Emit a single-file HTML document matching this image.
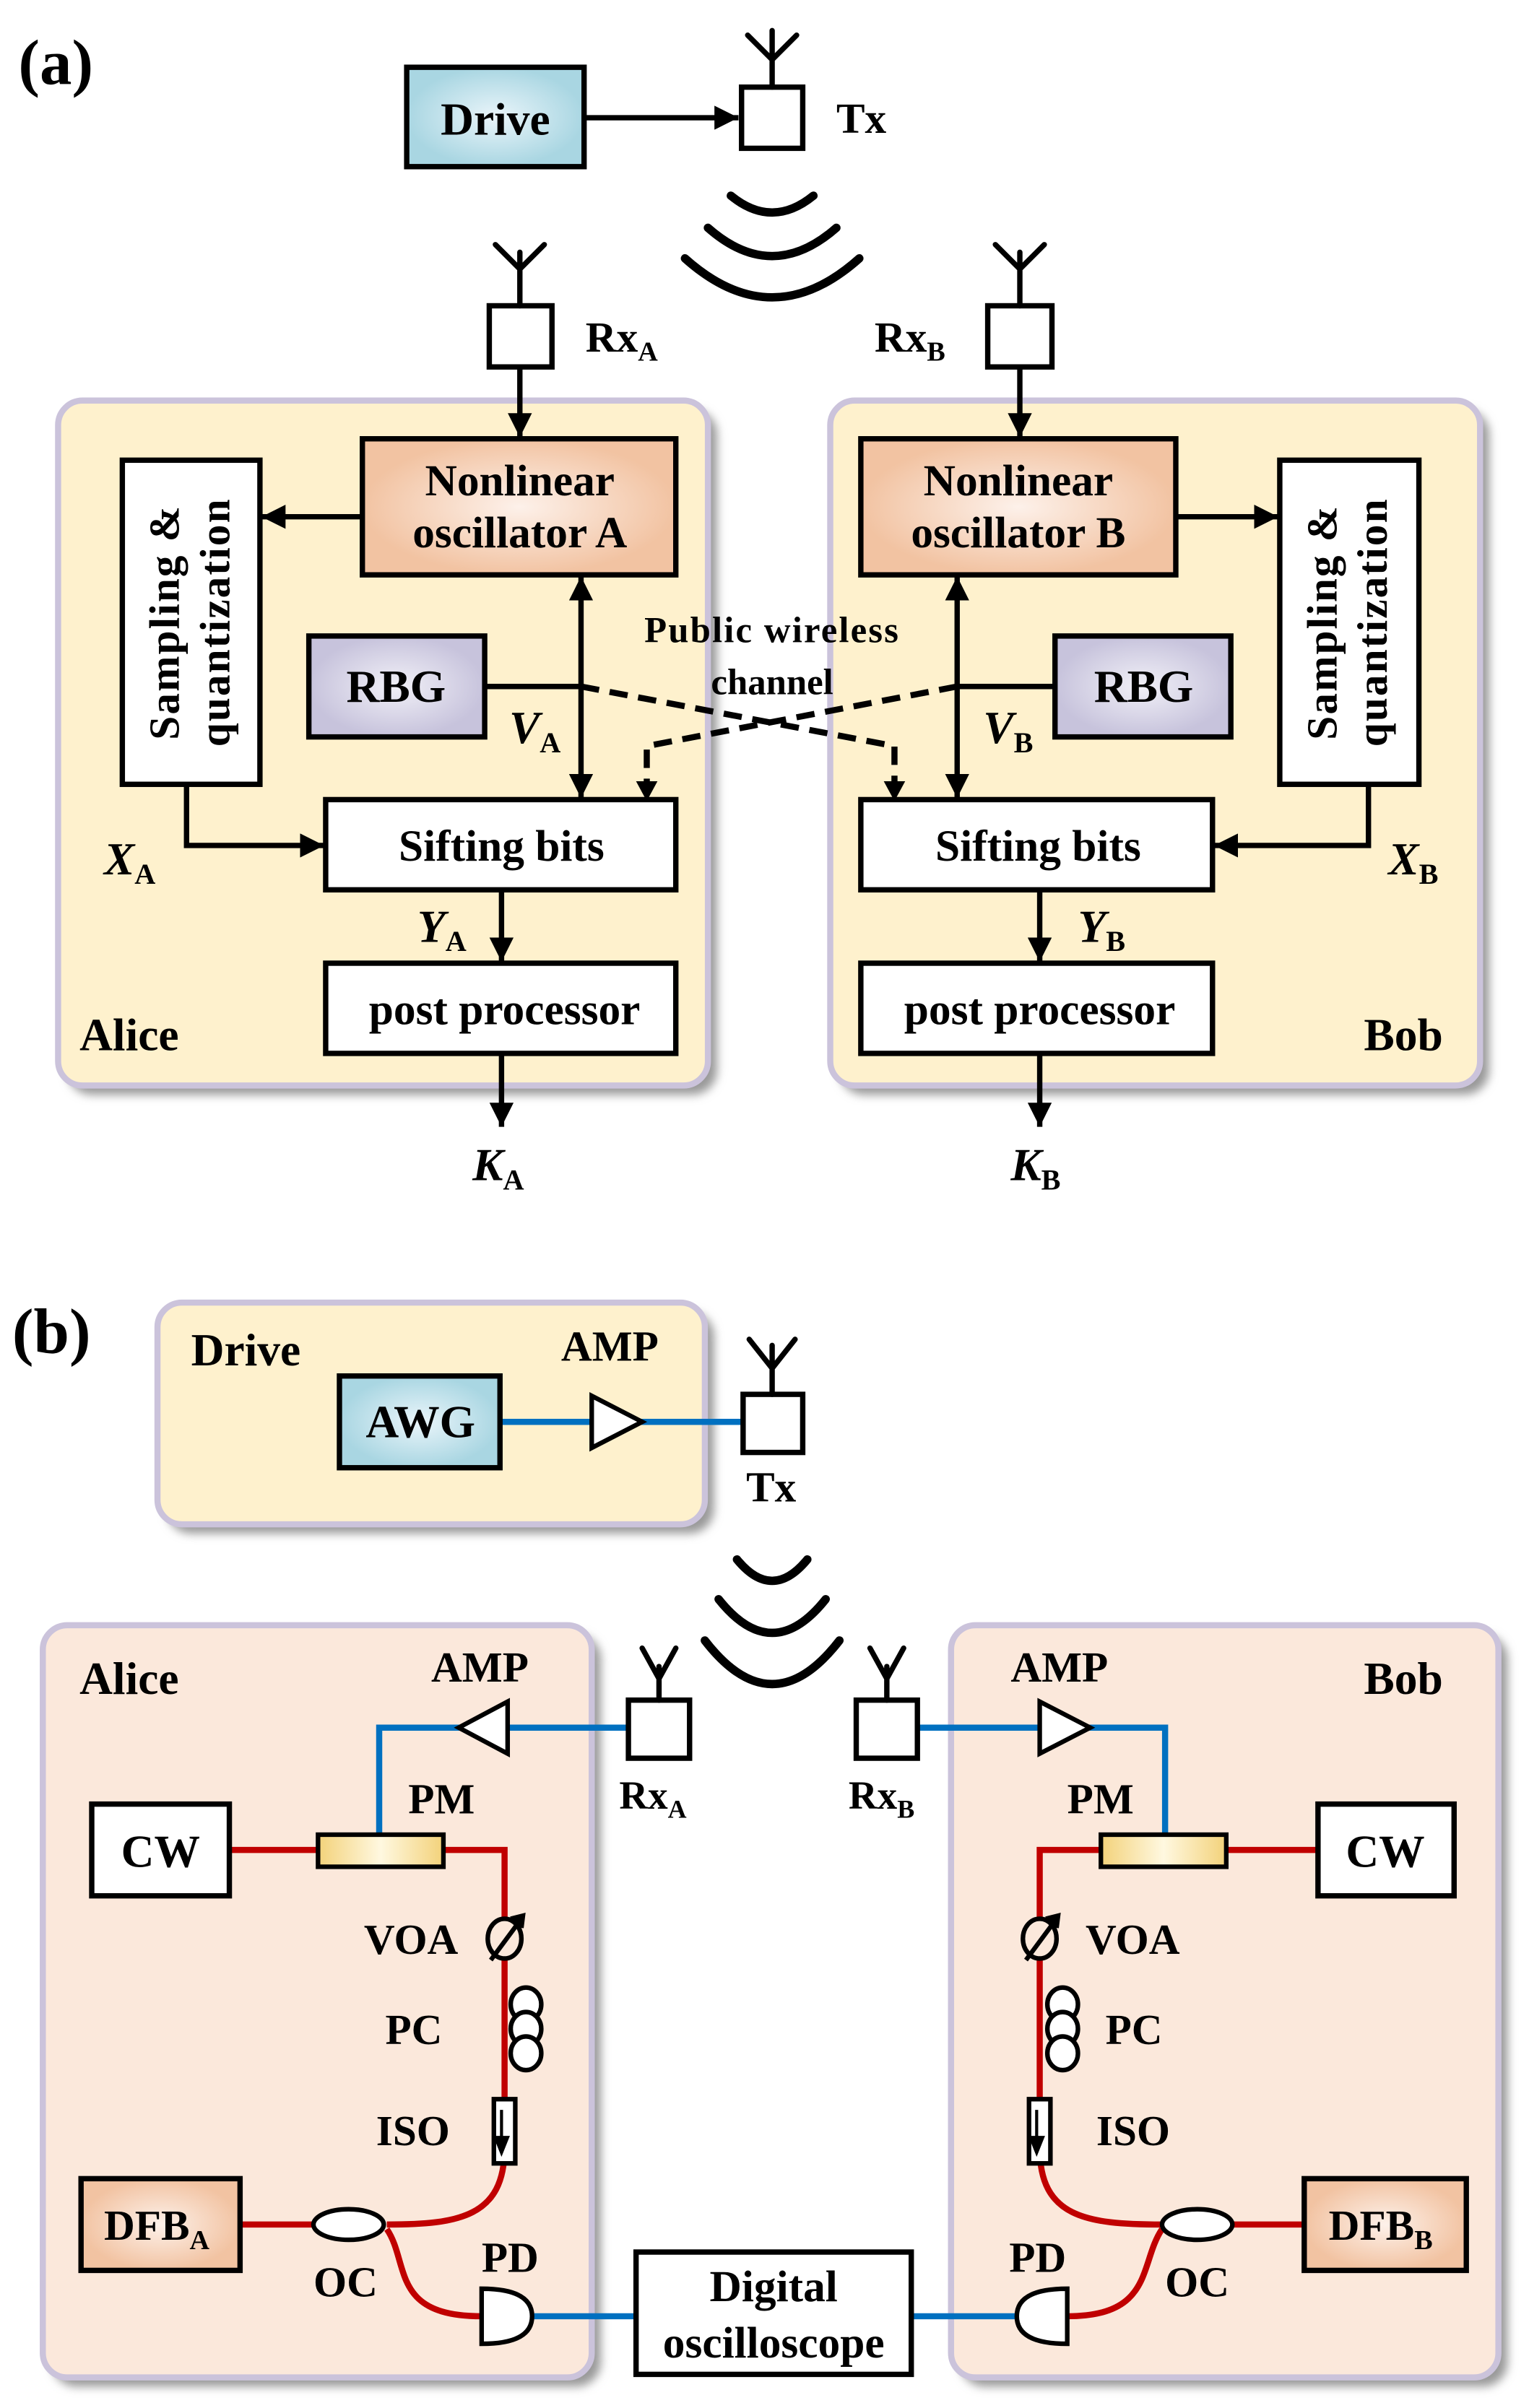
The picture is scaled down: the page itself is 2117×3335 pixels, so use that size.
<!DOCTYPE html>
<html><head><meta charset="utf-8"><style>
html,body{margin:0;padding:0;background:#fff;}
svg{display:block;}
text{font-family:"Liberation Serif",serif;font-weight:bold;fill:#000;}
</style></head><body>
<svg width="2117" height="3335" viewBox="0 0 1000 1575" preserveAspectRatio="none" xmlns="http://www.w3.org/2000/svg">
<defs>
<radialGradient id="gBlue"><stop offset="0" stop-color="#eaf5fa"/><stop offset="1" stop-color="#a9d6e2"/></radialGradient>
<radialGradient id="gPeach"><stop offset="0" stop-color="#fdf1ea"/><stop offset="1" stop-color="#f2c3a2"/></radialGradient>
<radialGradient id="gLav"><stop offset="0" stop-color="#f1f0f7"/><stop offset="1" stop-color="#c7c3dc"/></radialGradient>
<linearGradient id="gGold" x1="0" x2="1"><stop offset="0" stop-color="#f3d27a"/><stop offset="0.5" stop-color="#fff8e0"/><stop offset="1" stop-color="#f3d27a"/></linearGradient>
<marker id="ah" viewBox="0 0 10 10" refX="10" refY="5" markerWidth="4.5" markerHeight="4.5" orient="auto-start-reverse" markerUnits="strokeWidth"><path d="M0,0 L10,5 L0,10z" fill="#000"/></marker>
<filter id="sh" x="-5%" y="-5%" width="115%" height="115%"><feGaussianBlur stdDeviation="3"/></filter>
</defs>

<!-- (a) -->
<text x="12" y="55" font-size="42">(a)</text>
<rect x="266" y="44" width="116" height="65" fill="url(#gBlue)" stroke="#000" stroke-width="3.5"/>
<text x="324" y="88" font-size="30" text-anchor="middle">Drive</text>
<line x1="382" y1="77" x2="483" y2="77" stroke="#000" stroke-width="3.5" marker-end="url(#ah)"/>
<g stroke="#000" stroke-width="3.5" fill="none" stroke-linecap="round">
<rect x="485" y="57" width="40" height="40" fill="#fff"/>
<path d="M505,57 V20 M489,23 L505,39 L521,23"/>
<path d="M478,128 Q505,150 532,128" stroke-width="5.5"/>
<path d="M463,149 Q505,186 547,149" stroke-width="5.5"/>
<path d="M448,169 Q505,220 562,169" stroke-width="5.5"/>
</g>
<text x="547" y="87" font-size="28">Tx</text>

<g stroke="#000" stroke-width="3.5" fill="none" stroke-linecap="round">
<rect x="320" y="200" width="41" height="40" fill="#fff"/>
<path d="M340,200 V165 M324,160 L340,176 L356,160"/>
<rect x="646" y="200" width="42" height="40" fill="#fff"/>
<path d="M667,200 V165 M651,160 L667,176 L683,160"/>
</g>
<text x="383" y="230" font-size="28">Rx<tspan font-size="18" dy="6">A</tspan></text>
<text x="572" y="230" font-size="28">Rx<tspan font-size="18" dy="6">B</tspan></text>

<rect x="44" y="268" width="425" height="448" rx="16" fill="#999" filter="url(#sh)"/>
<rect x="549" y="268" width="425" height="448" rx="16" fill="#999" filter="url(#sh)"/>
<rect x="38" y="262" width="425" height="448" rx="16" fill="#fef1cd" stroke="#cbc3db" stroke-width="4"/>
<rect x="543" y="262" width="425" height="448" rx="16" fill="#fef1cd" stroke="#cbc3db" stroke-width="4"/>

<g stroke="#000" stroke-width="3.5" fill="none">
<line x1="340" y1="240" x2="340" y2="286" marker-end="url(#ah)"/>
<line x1="667" y1="240" x2="667" y2="286" marker-end="url(#ah)"/>
<line x1="237" y1="338" x2="171" y2="338" marker-end="url(#ah)"/>
<line x1="769" y1="338" x2="836" y2="338" marker-end="url(#ah)"/>
<line x1="380" y1="377" x2="380" y2="522" marker-start="url(#ah)" marker-end="url(#ah)"/>
<line x1="626" y1="377" x2="626" y2="522" marker-start="url(#ah)" marker-end="url(#ah)"/>
<polyline points="122,513 122,553 212,553" marker-end="url(#ah)"/>
<polyline points="895,513 895,553 794,553" marker-end="url(#ah)"/>
<line x1="328" y1="582" x2="328" y2="629" marker-end="url(#ah)"/>
<line x1="680" y1="582" x2="680" y2="629" marker-end="url(#ah)"/>
<line x1="328" y1="689" x2="328" y2="737" marker-end="url(#ah)"/>
<line x1="680" y1="689" x2="680" y2="737" marker-end="url(#ah)"/>
<line x1="317" y1="449" x2="380" y2="449"/>
<line x1="690" y1="449" x2="626" y2="449"/>
</g>
<g stroke="#000" stroke-width="4" fill="none" stroke-dasharray="12,7">
<polyline points="380,449 585,488 585,516"/>
<polyline points="626,449 423,488 423,516"/>
</g>
<path d="M416,511 L430,511 L423,524z M578,511 L592,511 L585,524z" fill="#000"/>

<rect x="237" y="287" width="205" height="89" fill="url(#gPeach)" stroke="#000" stroke-width="3.5"/>
<text x="340" y="324" font-size="29" text-anchor="middle">Nonlinear</text>
<text x="340" y="358" font-size="29" text-anchor="middle">oscillator A</text>
<rect x="563" y="287" width="206" height="89" fill="url(#gPeach)" stroke="#000" stroke-width="3.5"/>
<text x="666" y="324" font-size="29" text-anchor="middle">Nonlinear</text>
<text x="666" y="358" font-size="29" text-anchor="middle">oscillator B</text>

<rect x="80" y="301" width="90" height="212" fill="#fff" stroke="#000" stroke-width="3.5"/>
<text transform="translate(117,407) rotate(-90)" font-size="28" text-anchor="middle" letter-spacing="1">Sampling &amp;</text>
<text transform="translate(150,407) rotate(-90)" font-size="28" text-anchor="middle" letter-spacing="1">quantization</text>
<rect x="837" y="301" width="91" height="212" fill="#fff" stroke="#000" stroke-width="3.5"/>
<text transform="translate(874,407) rotate(-90)" font-size="28" text-anchor="middle" letter-spacing="1">Sampling &amp;</text>
<text transform="translate(907,407) rotate(-90)" font-size="28" text-anchor="middle" letter-spacing="1">quantization</text>

<rect x="202" y="416" width="115" height="66" fill="url(#gLav)" stroke="#000" stroke-width="3.5"/>
<text x="259" y="459" font-size="30" text-anchor="middle">RBG</text>
<rect x="690" y="416" width="115" height="66" fill="url(#gLav)" stroke="#000" stroke-width="3.5"/>
<text x="748" y="459" font-size="30" text-anchor="middle">RBG</text>

<text x="505" y="420" font-size="24" text-anchor="middle" letter-spacing="1">Public wireless</text>
<text x="505" y="454" font-size="24" text-anchor="middle">channel</text>

<text x="333" y="486" font-size="30" font-style="italic">V<tspan font-size="19" font-style="normal" dy="6">A</tspan></text>
<text x="643" y="486" font-size="30" font-style="italic">V<tspan font-size="19" font-style="normal" dy="6">B</tspan></text>

<rect x="213" y="523" width="229" height="59" fill="#fff" stroke="#000" stroke-width="3.5"/>
<text x="328" y="563" font-size="29" text-anchor="middle">Sifting bits</text>
<rect x="563" y="523" width="230" height="59" fill="#fff" stroke="#000" stroke-width="3.5"/>
<text x="679" y="563" font-size="29" text-anchor="middle">Sifting bits</text>

<text x="68" y="572" font-size="30" font-style="italic">X<tspan font-size="19" font-style="normal" dy="6">A</tspan></text>
<text x="908" y="572" font-size="30" font-style="italic">X<tspan font-size="19" font-style="normal" dy="6">B</tspan></text>
<text x="273" y="616" font-size="30" font-style="italic">Y<tspan font-size="19" font-style="normal" dy="6">A</tspan></text>
<text x="705" y="616" font-size="30" font-style="italic">Y<tspan font-size="19" font-style="normal" dy="6">B</tspan></text>

<rect x="213" y="630" width="229" height="59" fill="#fff" stroke="#000" stroke-width="3.5"/>
<text x="330" y="670" font-size="29" text-anchor="middle">post processor</text>
<rect x="563" y="630" width="230" height="59" fill="#fff" stroke="#000" stroke-width="3.5"/>
<text x="680" y="670" font-size="29" text-anchor="middle">post processor</text>

<text x="52" y="687" font-size="30">Alice</text>
<text x="892" y="687" font-size="30">Bob</text>
<text x="309" y="772" font-size="30" font-style="italic">K<tspan font-size="19" font-style="normal" dy="6">A</tspan></text>
<text x="661" y="772" font-size="30" font-style="italic">K<tspan font-size="19" font-style="normal" dy="6">B</tspan></text>

<!-- (b) -->
<text x="8" y="885" font-size="42">(b)</text>
<rect x="109" y="858" width="358" height="145" rx="16" fill="#999" filter="url(#sh)"/>
<rect x="103" y="852" width="358" height="145" rx="16" fill="#fef1cd" stroke="#cbc3db" stroke-width="4"/>
<text x="125" y="893" font-size="30">Drive</text>
<text x="367" y="890" font-size="28">AMP</text>
<line x1="327" y1="930" x2="486" y2="930" stroke="#0070c0" stroke-width="4"/>
<rect x="222" y="900" width="105" height="60" fill="url(#gBlue)" stroke="#000" stroke-width="3.5"/>
<text x="275" y="940" font-size="30" text-anchor="middle">AWG</text>
<path d="M387,913 L420,930 L387,947z" fill="#fff" stroke="#000" stroke-width="3"/>
<g stroke="#000" stroke-width="3.5" fill="none" stroke-linecap="round">
<rect x="486" y="912" width="39" height="38" fill="#fff"/>
<path d="M505,912 V880 M490,876 L505,895 L520,876"/>
<path d="M482,1020 Q505,1048 528,1020" stroke-width="5.5"/>
<path d="M470,1046 Q505,1090 540,1046" stroke-width="5.5"/>
<path d="M461,1073 Q505,1130 549,1073" stroke-width="5.5"/>
</g>
<text x="488" y="982" font-size="28">Tx</text>

<rect x="34" y="1069" width="359" height="492" rx="16" fill="#999" filter="url(#sh)"/>
<rect x="628" y="1069" width="358" height="492" rx="16" fill="#999" filter="url(#sh)"/>
<rect x="28" y="1063" width="359" height="492" rx="16" fill="#fbe8db" stroke="#cbc3db" stroke-width="4"/>
<rect x="622" y="1063" width="358" height="492" rx="16" fill="#fbe8db" stroke="#cbc3db" stroke-width="4"/>
<text x="52" y="1108" font-size="30">Alice</text>
<text x="892" y="1108" font-size="30">Bob</text>
<text x="282" y="1100" font-size="28">AMP</text>
<text x="661" y="1100" font-size="28">AMP</text>

<g stroke="#0070c0" stroke-width="4" fill="none">
<polyline points="411,1130 248,1130 248,1202"/>
<polyline points="600,1130 762,1130 762,1202"/>
<line x1="348" y1="1515" x2="416" y2="1515"/>
<line x1="596" y1="1515" x2="665" y2="1515"/>
</g>
<path d="M332,1113 L300,1130 L332,1147z" fill="#fff" stroke="#000" stroke-width="3"/>
<path d="M680,1113 L713,1130 L680,1147z" fill="#fff" stroke="#000" stroke-width="3"/>
<g stroke="#000" stroke-width="3.5" fill="none" stroke-linecap="round">
<rect x="411" y="1112" width="40" height="38" fill="#fff"/>
<path d="M431,1112 V1090 M420,1078 L431,1098 L442,1078"/>
<rect x="560" y="1112" width="40" height="38" fill="#fff"/>
<path d="M580,1112 V1090 M569,1078 L580,1098 L591,1078"/>
</g>
<text x="405" y="1183" font-size="26">Rx<tspan font-size="17" dy="6">A</tspan></text>
<text x="555" y="1183" font-size="26">Rx<tspan font-size="17" dy="6">B</tspan></text>

<g stroke="#c00000" stroke-width="4" fill="none">
<line x1="150" y1="1210" x2="208" y2="1210"/>
<polyline points="290,1210 330,1210 330,1405"/>
<path d="M330,1405 C330,1450 300,1455 253,1455"/>
<line x1="157" y1="1455" x2="205" y2="1455"/>
<path d="M253,1458 C268,1480 255,1515 315,1515"/>
<line x1="802" y1="1210" x2="862" y2="1210"/>
<polyline points="720,1210 680,1210 680,1405"/>
<path d="M680,1405 C680,1450 710,1455 760,1455"/>
<line x1="806" y1="1455" x2="853" y2="1455"/>
<path d="M760,1458 C745,1480 755,1515 698,1515"/>
</g>

<rect x="60" y="1180" width="90" height="60" fill="#fff" stroke="#000" stroke-width="3.5"/>
<text x="105" y="1221" font-size="30" text-anchor="middle">CW</text>
<rect x="862" y="1180" width="89" height="60" fill="#fff" stroke="#000" stroke-width="3.5"/>
<text x="906" y="1221" font-size="30" text-anchor="middle">CW</text>
<rect x="208" y="1200" width="82" height="21" fill="url(#gGold)" stroke="#000" stroke-width="3"/>
<rect x="720" y="1200" width="82" height="21" fill="url(#gGold)" stroke="#000" stroke-width="3"/>
<text x="267" y="1186" font-size="28">PM</text>
<text x="698" y="1186" font-size="28">PM</text>

<g stroke="#000" stroke-width="3" fill="none">
<ellipse cx="330" cy="1268" rx="11" ry="13" fill="#fbe8db"/>
<line x1="321" y1="1282" x2="341" y2="1255"/>
<path d="M334,1255 L342,1253 L341,1261" fill="#000"/>
<ellipse cx="680" cy="1268" rx="11" ry="13" fill="#fbe8db"/>
<line x1="671" y1="1282" x2="691" y2="1255"/>
<path d="M684,1255 L692,1253 L691,1261" fill="#000"/>
<ellipse cx="344" cy="1311" rx="10" ry="11" fill="#fff"/>
<ellipse cx="344" cy="1327" rx="10" ry="11" fill="#fff"/>
<ellipse cx="344" cy="1343" rx="10" ry="11" fill="#fff"/>
<ellipse cx="695" cy="1311" rx="10" ry="11" fill="#fff"/>
<ellipse cx="695" cy="1327" rx="10" ry="11" fill="#fff"/>
<ellipse cx="695" cy="1343" rx="10" ry="11" fill="#fff"/>
<rect x="323" y="1373" width="14" height="42" fill="#fff"/>
<rect x="673" y="1373" width="14" height="42" fill="#fff"/>
<ellipse cx="228" cy="1455" rx="23" ry="10" fill="#fff"/>
<ellipse cx="783" cy="1455" rx="23" ry="10" fill="#fff"/>
<path d="M315,1497 L315,1533 Q348,1533 348,1515 Q348,1497 315,1497z" fill="#fff"/>
<path d="M698,1497 L698,1533 Q665,1533 665,1515 Q665,1497 698,1497z" fill="#fff"/>
</g>
<path d="M328,1380 V1403 M324,1398 L328,1408 L332,1398z" stroke="#000" stroke-width="2" fill="#000"/>
<path d="M678,1380 V1403 M674,1398 L678,1408 L682,1398z" stroke="#000" stroke-width="2" fill="#000"/>
<text x="238" y="1278" font-size="28">VOA</text>
<text x="710" y="1278" font-size="28">VOA</text>
<text x="252" y="1337" font-size="28">PC</text>
<text x="723" y="1337" font-size="28">PC</text>
<text x="246" y="1403" font-size="28">ISO</text>
<text x="717" y="1403" font-size="28">ISO</text>

<rect x="53" y="1425" width="104" height="60" fill="url(#gPeach)" stroke="#000" stroke-width="3.5"/>
<text x="68" y="1465" font-size="28">DFB<tspan font-size="18" dy="6">A</tspan></text>
<rect x="853" y="1425" width="106" height="60" fill="url(#gPeach)" stroke="#000" stroke-width="3.5"/>
<text x="869" y="1465" font-size="28">DFB<tspan font-size="18" dy="6">B</tspan></text>
<text x="205" y="1502" font-size="28">OC</text>
<text x="762" y="1502" font-size="28">OC</text>
<text x="315" y="1486" font-size="28">PD</text>
<text x="660" y="1486" font-size="28">PD</text>

<rect x="416" y="1473" width="180" height="80" fill="#fff" stroke="#000" stroke-width="3.5"/>
<text x="506" y="1505" font-size="29" text-anchor="middle">Digital</text>
<text x="506" y="1542" font-size="29" text-anchor="middle">oscilloscope</text>
</svg>
</body></html>
